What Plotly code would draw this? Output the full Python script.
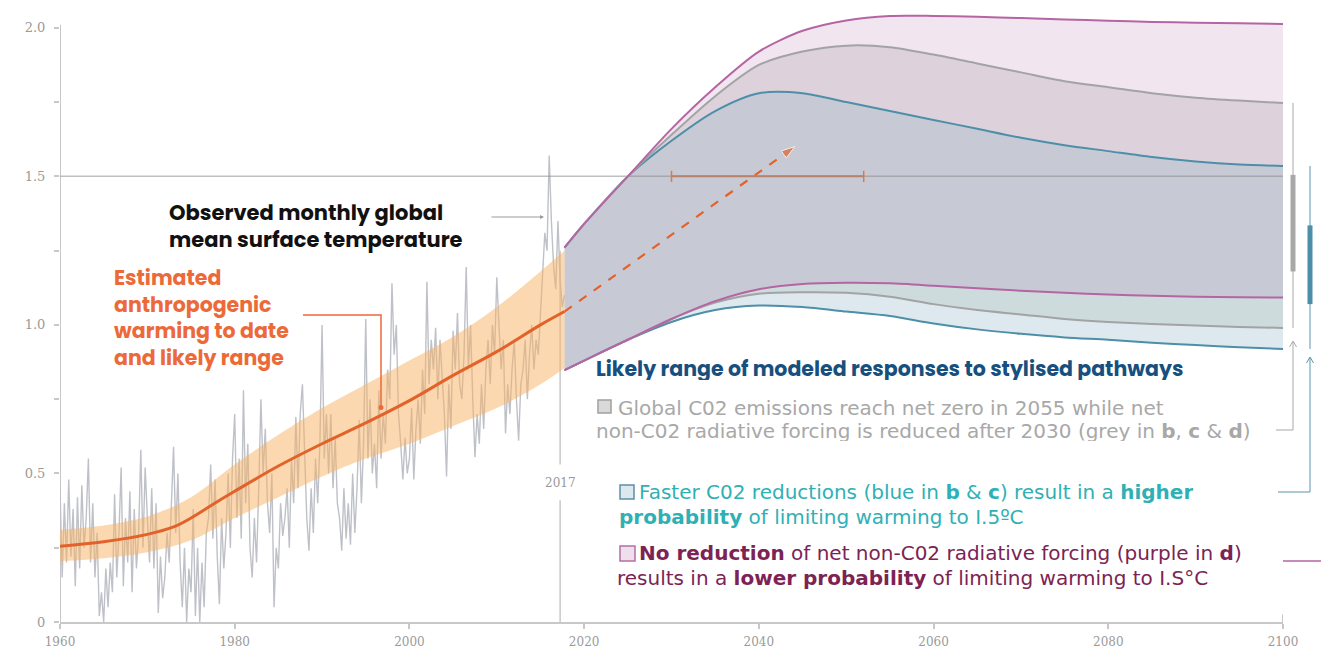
import plotly.graph_objects as go

# ---------------- data ----------------
# Observed monthly global mean surface temperature (read at quarter-year steps)
obs_start = 1960.0
obs_step = 0.25
obs_temp = [
    0.45, 0.15, 0.40, 0.20,   # 1960
    0.48, 0.22, 0.38, 0.12,   # 1961
    0.42, 0.18, 0.46, 0.25,   # 1962
    0.35, 0.55, 0.20, 0.40,   # 1963
    0.15, 0.30, 0.02, 0.10,   # 1964
    0.00, 0.18, 0.05, 0.20,   # 1965
    0.10, 0.43, 0.15, 0.30,   # 1966
    0.52, 0.12, 0.35, 0.20,   # 1967
    0.44, 0.10, 0.38, 0.18,   # 1968
    0.30, 0.58, 0.25, 0.52,   # 1969
    0.35, 0.20, 0.45, 0.18,   # 1970
    0.40, 0.03, 0.22, 0.08,   # 1971
    0.15, 0.30, 0.20, 0.42,   # 1972
    0.59, 0.30, 0.50, 0.20,   # 1973
    0.05, 0.25, 0.00, 0.18,   # 1974
    0.10, 0.38, 0.02, 0.25,   # 1975
    0.00, 0.20, 0.05, 0.30,   # 1976
    0.35, 0.53, 0.28, 0.48,   # 1977
    0.22, 0.06, 0.35, 0.18,   # 1978
    0.30, 0.50, 0.25, 0.55,   # 1979
    0.70, 0.35, 0.55, 0.28,   # 1980
    0.78, 0.40, 0.60, 0.25,   # 1981
    0.15, 0.35, 0.20, 0.45,   # 1982
    0.75, 0.50, 0.65, 0.40,   # 1983
    0.30, 0.50, 0.05, 0.25,   # 1984
    0.18, 0.40, 0.29, 0.35,   # 1985
    0.45, 0.25, 0.55, 0.40,   # 1986
    0.69, 0.45, 0.70, 0.80,   # 1987
    0.60, 0.35, 0.24, 0.45,   # 1988
    0.30, 0.55, 0.40, 0.60,   # 1989
    1.00, 0.55, 0.70, 0.50,   # 1990
    0.70, 0.45, 0.62, 0.40,   # 1991
    0.35, 0.24, 0.45, 0.28,   # 1992
    0.40, 0.26, 0.50, 0.30,   # 1993
    0.45, 0.68, 0.40, 0.60,   # 1994
    1.02, 0.55, 0.75, 0.50,   # 1995
    0.60, 0.45, 0.78, 0.55,   # 1996
    0.70, 0.60, 0.85, 0.75,   # 1997
    1.14, 0.90, 1.00, 0.70,   # 1998
    0.60, 0.48, 0.62, 0.50,   # 1999
    0.55, 0.72, 0.48, 0.65,   # 2000
    0.75, 0.60, 0.85, 0.70,   # 2001
    1.145, 0.80, 0.95, 0.85,  # 2002
    0.99, 0.75, 0.95, 0.80,   # 2003
    0.70, 0.49, 0.80, 0.65,   # 2004
    0.98, 0.85, 1.04, 0.80,   # 2005
    0.75, 0.90, 1.195, 0.85,  # 2006
    1.00, 0.75, 0.555, 0.70,  # 2007
    0.60, 0.80, 0.65, 0.85,   # 2008
    0.95, 0.80, 1.00, 0.90,   # 2009
    1.16, 1.00, 0.85, 0.95,   # 2010
    0.635, 0.80, 0.70, 0.85,  # 2011
    0.95, 0.75, 0.61, 0.80,   # 2012
    0.85, 0.95, 0.75, 0.90,   # 2013
    1.00, 0.85, 0.95, 0.90,   # 2014
    1.05, 1.20, 1.31, 1.25,   # 2015
    1.57, 1.35, 1.20, 1.12,   # 2016
    1.35, 1.15, 1.06, 1.10,   # 2017
]

# Estimated anthropogenic warming
anthro_years = [1960, 1965, 1970, 1973, 1975, 1978, 1980, 1985, 1990, 1995, 2000, 2005, 2010, 2015, 2017.75]
anthro_mid = [0.255, 0.27, 0.295, 0.32, 0.35, 0.405, 0.44, 0.525, 0.60, 0.67, 0.745, 0.83, 0.91, 1.00, 1.045]
# likely range
band_years = [1960, 1965, 1970, 1975, 1980, 1985, 1990, 1995, 2000, 2005, 2010, 2015, 2017.75]
band_low = [0.205, 0.215, 0.235, 0.275, 0.35, 0.42, 0.49, 0.55, 0.60, 0.66, 0.72, 0.80, 0.855]
band_high = [0.31, 0.325, 0.355, 0.42, 0.53, 0.63, 0.72, 0.80, 0.88, 0.96, 1.06, 1.18, 1.25]

# Modeled responses to stylised pathways
proj_years = [2017.75, 2020, 2025, 2030, 2035, 2040, 2045, 2050, 2055, 2060, 2065, 2070, 2075, 2080, 2085, 2090, 2095, 2100]
blue_high = [1.26, 1.34, 1.50, 1.62, 1.72, 1.78, 1.78, 1.75, 1.72, 1.69, 1.66, 1.63, 1.605, 1.585, 1.565, 1.55, 1.54, 1.535]
grey_high = [1.26, 1.34, 1.50, 1.64, 1.77, 1.875, 1.92, 1.94, 1.935, 1.91, 1.88, 1.85, 1.82, 1.80, 1.78, 1.765, 1.755, 1.747]
purple_high = [1.26, 1.34, 1.50, 1.66, 1.80, 1.92, 1.99, 2.025, 2.04, 2.04, 2.037, 2.033, 2.028, 2.024, 2.02, 2.017, 2.015, 2.013]
blue_low = [0.848, 0.88, 0.95, 1.01, 1.05, 1.065, 1.06, 1.045, 1.03, 1.005, 0.985, 0.97, 0.958, 0.95, 0.94, 0.932, 0.925, 0.919]
grey_low = [0.848, 0.88, 0.95, 1.02, 1.075, 1.105, 1.11, 1.108, 1.095, 1.07, 1.05, 1.035, 1.02, 1.01, 1.003, 0.998, 0.993, 0.99]
purple_low = [0.848, 0.88, 0.95, 1.02, 1.08, 1.12, 1.138, 1.142, 1.14, 1.132, 1.123, 1.115, 1.108, 1.102, 1.098, 1.095, 1.093, 1.092]

# Dashed arrow tip and 1.5 °C crossing range
arrow_tip_year, arrow_tip_val = 2044.1, 1.60
cross_years = [2030, 2052]
threshold = 1.5
marker_year = 2017.25

# 2100 bars (thick = central range)
grey_bar_2100 = [1.18, 1.505]
blue_bar_2100 = [1.07, 1.335]

x_ticks = [1960, 1980, 2000, 2020, 2040, 2060, 2080, 2100]
x_ticktext = ["1960", "1980", "2000", "2020", "2040", "2060", "2080", "2100"]
y_ticks = [0, 0.25, 0.5, 0.75, 1.0, 1.25, 1.5, 1.75, 2.0]
y_ticktext = ["0", "", "0.5", "", "1.0", "", "1.5", "", "2.0"]

# ---------------- layout helpers ----------------
W, H = 1321, 652
ML, MR, MT, MB = 60, 38, 10, 30
PW, PH = W - ML - MR, H - MT - MB


def px(x):
    return (x - ML) / PW


def py(y):
    return (MT + PH - y) / PH


C_BLUE = "#4d8fa8"
C_GREY = "#a3a3a6"
C_PURP = "#b565a3"
C_ORANGE = "#e2622a"

obs_years = [obs_start + i * obs_step for i in range(len(obs_temp))]

fig = go.Figure()

# projection fills (stacked bands)
fill_stack = [
    (blue_low, None),
    (grey_low, "#dde9ee"),
    (purple_low, "#cddbdc"),
    (blue_high, "#c7cad5"),
    (grey_high, "#ddd1dc"),
    (purple_high, "#f1e6ef"),
]
for vals, col in fill_stack:
    fig.add_trace(go.Scatter(
        x=proj_years, y=vals, mode="lines",
        line=dict(width=0, shape="spline", smoothing=0.8),
        fill="tonexty" if col else None, fillcolor=col,
        hoverinfo="skip", showlegend=False))

# observed monthly GMST
fig.add_trace(go.Scatter(x=obs_years, y=obs_temp, mode="lines",
                         line=dict(color="#bfc1c8", width=1.4),
                         hoverinfo="skip", showlegend=False))

# anthropogenic likely range band
fig.add_trace(go.Scatter(x=band_years, y=band_low, mode="lines",
                         line=dict(width=0, shape="spline"), showlegend=False, hoverinfo="skip"))
fig.add_trace(go.Scatter(x=band_years, y=band_high, mode="lines",
                         line=dict(width=0, shape="spline"), fill="tonexty",
                         fillcolor="rgba(248,178,98,0.5)", showlegend=False, hoverinfo="skip"))
fig.add_trace(go.Scatter(x=anthro_years, y=anthro_mid, mode="lines",
                         line=dict(color=C_ORANGE, width=3, shape="spline"),
                         showlegend=False, hoverinfo="skip"))

# projection lines
for vals, col in [(blue_low, C_BLUE), (grey_low, C_GREY), (purple_low, C_PURP),
                  (blue_high, C_BLUE), (grey_high, C_GREY), (purple_high, C_PURP)]:
    fig.add_trace(go.Scatter(x=proj_years, y=vals, mode="lines",
                             line=dict(color=col, width=2, shape="spline", smoothing=0.8),
                             showlegend=False, hoverinfo="skip"))

# dashed arrow from current warming
fig.add_trace(go.Scatter(
    x=[anthro_years[-1], arrow_tip_year], y=[anthro_mid[-1], arrow_tip_val],
    mode="lines+markers",
    line=dict(color=C_ORANGE, width=2.2, dash="dash"),
    marker=dict(symbol=["circle", "arrow"], size=[11, 14], color=C_ORANGE,
                angleref="previous"),
    showlegend=False, hoverinfo="skip"))

# 1.5 crossing range
fig.add_trace(go.Scatter(
    x=cross_years, y=[threshold, threshold], mode="lines+markers",
    line=dict(color="#e8763f", width=2),
    marker=dict(symbol="line-ns", size=8, line=dict(color="#e8763f", width=1.5)),
    showlegend=False, hoverinfo="skip"))

shapes = []
# y axis line
shapes.append(dict(type="line", xref="x", yref="y", x0=1960, x1=1960, y0=0, y1=2.01,
                   line=dict(color="#c8c8c8", width=2), layer="below"))
# 1.5 horizontal line
shapes.append(dict(type="line", xref="x", yref="y", x0=1960, x1=2100, y0=threshold, y1=threshold,
                   line=dict(color="rgba(140,140,140,0.55)", width=1.5), layer="above"))
# 2017 vertical marker
shapes.append(dict(type="line", xref="x", yref="y", x0=marker_year, x1=marker_year, y0=0, y1=0.41,
                   line=dict(color="#c8c8c8", width=1.5), layer="below"))
shapes.append(dict(type="line", xref="x", yref="y", x0=marker_year, x1=marker_year, y0=0.53, y1=1.25,
                   line=dict(color="#c8c8c8", width=1.5), layer="below"))
# 2100 axis end tick
shapes.append(dict(type="line", xref="x", yref="y", x0=2100, x1=2100, y0=0, y1=0.025,
                   line=dict(color="#c8c8c8", width=2)))

# right-side ranges at 2100
xg, xb = px(1293), px(1310)
shapes.append(dict(type="line", xref="paper", yref="y", x0=xg, x1=xg,
                   y0=grey_low[-1], y1=grey_high[-1], line=dict(color="#a8a8a8", width=1)))
shapes.append(dict(type="line", xref="paper", yref="y", x0=xg, x1=xg,
                   y0=grey_bar_2100[0], y1=grey_bar_2100[1], line=dict(color="#a8a8a8", width=5)))
shapes.append(dict(type="line", xref="paper", yref="y", x0=xb, x1=xb,
                   y0=blue_low[-1], y1=blue_high[-1], line=dict(color="#5a96ad", width=1)))
shapes.append(dict(type="line", xref="paper", yref="y", x0=xb, x1=xb,
                   y0=blue_bar_2100[0], y1=blue_bar_2100[1], line=dict(color="#4d8fa8", width=5)))


def path(points):
    return "M " + " L ".join(f"{px(a):.5f},{py(b):.5f}" for a, b in points)


# connectors with arrowheads
shapes.append(dict(type="path", xref="paper", yref="paper",
                   path=path([(1276, 430), (1293, 430), (1293, 342)]),
                   line=dict(color="#a8a8a8", width=1)))
shapes.append(dict(type="path", xref="paper", yref="paper",
                   path=path([(1289.5, 347), (1293, 341), (1296.5, 347)]),
                   line=dict(color="#a8a8a8", width=1)))
shapes.append(dict(type="path", xref="paper", yref="paper",
                   path=path([(1278, 492), (1310, 492), (1310, 358)]),
                   line=dict(color="#5a96ad", width=1)))
shapes.append(dict(type="path", xref="paper", yref="paper",
                   path=path([(1306.5, 363), (1310, 357), (1313.5, 363)]),
                   line=dict(color="#5a96ad", width=1)))
shapes.append(dict(type="line", xref="paper", yref="paper", x0=px(1283), x1=px(1321),
                   y0=py(561), y1=py(561), line=dict(color=C_PURP, width=1.5)))

# orange connector for anthropogenic label
shapes.append(dict(type="path", xref="paper", yref="paper",
                   path=path([(303, 315), (381, 315), (381, 407)]),
                   line=dict(color="#ec6a3a", width=1.5)))
shapes.append(dict(type="circle", xref="paper", yref="paper",
                   x0=px(378.5), x1=px(383.5), y0=py(410), y1=py(405),
                   fillcolor="#ec6a3a", line=dict(width=0)))

# legend squares
for (x0, y0, x1, y1, fc, lc) in [
    (598, 400, 611, 413, "#d9d9d9", "#a0a0a0"),
    (620, 485, 634, 499, "#dde8ee", "#5a90a5"),
    (620, 546, 635, 561, "#efdeec", "#b36fa5"),
]:
    shapes.append(dict(type="rect", xref="paper", yref="paper",
                       x0=px(x0), x1=px(x1), y0=py(y1), y1=py(y0),
                       fillcolor=fc, line=dict(color=lc, width=1.5)))

annotations = []


def txt(x, y, text, color, size, family, box_h=None):
    a = dict(xref="paper", yref="paper", x=px(x), y=py(y), text=text,
             showarrow=False, xanchor="left", yanchor="middle", align="left",
             borderpad=0, font=dict(color=color, size=size, family=family))
    if box_h:
        a["height"] = box_h
    annotations.append(a)


HEAD = "Poppins, Inter, 'Open Sans', sans-serif"
BODY = "'DejaVu Sans', 'Open Sans', sans-serif"

txt(168, 226.5, "<b>Observed monthly global<br>mean surface temperature</b>", "#111111", 21, HEAD)
txt(113, 317, "<b>Estimated<br>anthropogenic<br>warming to date<br>and likely range</b>", "#ec6a3a", 20.5, HEAD)
txt(595, 368, "<b>Likely range of modeled responses to stylised pathways</b>", "#17507e", 20.5, HEAD, 24)
txt(617, 407, "Global C02 emissions reach net zero in 2055 while net", "#a8a8a8", 20, BODY, 21)
txt(595, 430, "non-C02 radiative forcing is reduced after 2030 (grey in <b>b</b>, <b>c</b> &amp; <b>d</b>)",
    "#a8a8a8", 20, BODY, 21)
txt(638, 492, "Faster C02 reductions (blue in <b>b</b> &amp; <b>c</b>) result in a <b>higher</b>",
    "#2fb0b5", 20, BODY, 22)
txt(618, 517, "<b>probability</b> of limiting warming to I.5ºC", "#2fb0b5", 20, BODY, 22)
txt(638, 553, "<b>No reduction</b> of net non-C02 radiative forcing (purple in <b>d</b>)", "#7c2354", 20, BODY, 22)
txt(616, 578, "results in a <b>lower probability</b> of limiting warming to I.S°C", "#7c2354", 20, BODY, 22)

# 2017 label
annotations.append(dict(xref="x", yref="paper", x=marker_year, y=py(483), text="2017",
                        showarrow=False, xanchor="center", yanchor="middle",
                        font=dict(color="#999999", size=12, family="DejaVu Serif")))

# arrow for observed label
annotations.append(dict(xref="paper", yref="paper", x=px(544), y=py(217), text="",
                        showarrow=True, ax=-54, ay=0, arrowhead=2, arrowsize=0.8,
                        arrowwidth=1, arrowcolor="#9a9a9a"))

fig.update_layout(
    width=W, height=H, autosize=False,
    margin=dict(l=ML, r=MR, t=MT, b=MB, autoexpand=False),
    paper_bgcolor="white", plot_bgcolor="white",
    shapes=shapes, annotations=annotations,
    xaxis=dict(range=[1960, 2100], tickvals=x_ticks, ticktext=x_ticktext, automargin=False,
               showgrid=False, zeroline=False, showline=True, linecolor="#c8c8c8", linewidth=2,
               ticks="outside", ticklen=5, tickcolor="#c8c8c8", tickwidth=1.5,
               ticklabelstandoff=3,
               tickfont=dict(family="DejaVu Serif", size=12, color="#9a9a9a")),
    yaxis=dict(range=[0, 2.06], tickvals=y_ticks, ticktext=y_ticktext, automargin=False,
               showgrid=False, zeroline=False, showline=False,
               ticks="outside", ticklen=5, tickcolor="#c8c8c8", tickwidth=1.5,
               ticklabelstandoff=6,
               tickfont=dict(family="DejaVu Serif", size=13, color="#9a9a9a")),
)

fig.write_html("out.html", config={"displayModeBar": False},
               post_script="document.body.style.margin='0';document.body.style.overflow='hidden';")
